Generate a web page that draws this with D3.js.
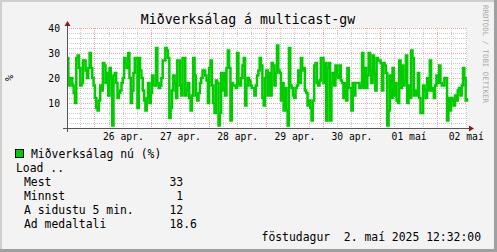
<!DOCTYPE html>
<html>
<head>
<meta charset="utf-8">
<script src="https://cdn.jsdelivr.net/npm/d3@7"></script>
<style>
body { margin: 0; background: #fff; }
text { font-family: "DejaVu Sans Mono", monospace; white-space: pre; }
</style>
</head>
<body>
<script>
// Miðverksálag (%) - gildi lesin af myndinni, jafnt dreifð yfir vikuna
var values = [
	28,17,20,20,17,14,10,28,29,24,17,18,27,27,23,20,24,30,24,20,17,12,8,7,11,17,15,26,25,18,
	22,13,24,20,1,21,22,18,12,14,15,18,20,28,26,24,30,20,10,15,22,28,28,8,28,23,20,15,11,7,
	12,18,10,14,21,17,17,32,18,16,17,20,27,27,32,31,28,
	4,8,15,21,18,12,27,27,17,13,28,28,13,15,18,12,7,13,28,21,13,11,14,18,20,23,23,21,19,10,
	24,27,17,10,6,19,18,1,6,22,15,22,13,24,31,24,3,18,17,17,16,30,18,17,20,25,28,9,17,20,
	19,17,16,16,13,17,21,23,28,25,12,9,20,23,13,22,
	13,26,25,17,22,33,23,22,11,18,7,16,7,1,32,17,16,13,12,16,17,23,18,28,23,24,15,14,9,11,
	8,3,11,25,26,18,17,19,28,28,18,26,3,24,26,3,18,22,17,25,21,20,25,19,18,12,18,11,24,16,
	16,7,18,13,18,18,18,16,17,30,16,24,16,21,30,23,18,
	29,22,15,28,27,27,26,15,26,25,22,1,7,21,12,24,13,18,11,10,27,16,25,17,19,29,10,17,12,31,
	28,13,15,13,22,12,6,6,17,15,12,20,15,27,15,16,12,17,21,18,25,18,17,17,20,20,3,12,7,12,
	11,9,13,11,15,16,13,17,24,20,11,12
];
var startTime = new Date(Date.UTC(2025, 3, 25, 12, 32));
var endTime = new Date(Date.UTC(2025, 4, 2, 12, 32));
var yTicks = [10, 20, 30, 40];
var dayLabels = ["26 apr.", "27 apr.", "28 apr.", "29 apr.", "30 apr.", "01 maí", "02 maí"];
var legendNames = ["Mest", "Minnst", "A sidustu 5 min.", "Ad medaltali"];
var legendValues = ["33", " 1", "12", "18.6"];

var W = 497, H = 252;
var plot = {left: 67, right: 467, top: 28, bottom: 128};

var svg = d3.select("body").append("svg")
	.attr("width", W)
	.attr("height", H);

//bakgrunnur og rammi
svg.append("rect").attr("width", W).attr("height", H).attr("fill", "#f3f3f3");
svg.append("rect").attr("x", 0).attr("y", 0).attr("width", W).attr("height", 2).attr("fill", "#cfcfcf");
svg.append("rect").attr("x", 0).attr("y", 0).attr("width", 2).attr("height", H).attr("fill", "#cfcfcf");
svg.append("rect").attr("x", 0).attr("y", H - 3).attr("width", W).attr("height", 3).attr("fill", "#a0a0a0");
svg.append("rect").attr("x", W - 3).attr("y", 0).attr("width", 3).attr("height", H).attr("fill", "#a0a0a0");

svg.append("rect")
	.attr("x", plot.left).attr("y", plot.top)
	.attr("width", plot.right - plot.left).attr("height", plot.bottom - plot.top)
	.attr("fill", "#fff");

var x = d3.scaleTime()
	.domain([startTime, endTime])
	.range([plot.left, plot.right]);

var y = d3.scaleLinear()
	.domain([0, 40])
	.range([plot.bottom, plot.top]);

var step = (endTime - startTime) / (values.length - 1);
var data = values.map(function(v, i) {
	return {t: new Date(+startTime + i * step), v: v};
});

//grindur
var grid = svg.append("g").attr("shape-rendering", "crispEdges").attr("stroke-width", 1);

grid.selectAll(".hmin")
	.data(d3.range(2, 41, 2).filter(function(d) { return d % 10 !== 0; }))
	.enter().append("line")
	.attr("x1", plot.left).attr("x2", plot.right)
	.attr("y1", function(d) { return Math.round(y(d)) + 0.5; })
	.attr("y2", function(d) { return Math.round(y(d)) + 0.5; })
	.attr("stroke", "#cccccc").attr("stroke-dasharray", "1,1");

grid.selectAll(".vmin")
	.data(d3.utcHour.every(6).range(startTime, endTime).filter(function(d) { return d.getUTCHours() !== 0; }))
	.enter().append("line")
	.attr("x1", function(d) { return Math.round(x(d)) + 0.5; })
	.attr("x2", function(d) { return Math.round(x(d)) + 0.5; })
	.attr("y1", plot.top).attr("y2", plot.bottom)
	.attr("stroke", "#cccccc").attr("stroke-dasharray", "1,1");

grid.selectAll(".hmaj")
	.data(yTicks)
	.enter().append("line")
	.attr("x1", plot.left).attr("x2", plot.right)
	.attr("y1", function(d) { return Math.round(y(d)) + 0.5; })
	.attr("y2", function(d) { return Math.round(y(d)) + 0.5; })
	.attr("stroke", "#f4a0a0").attr("stroke-dasharray", "1,1");

grid.selectAll(".vmaj")
	.data(d3.utcDay.range(startTime, endTime))
	.enter().append("line")
	.attr("x1", function(d) { return Math.round(x(d)) + 0.5; })
	.attr("x2", function(d) { return Math.round(x(d)) + 0.5; })
	.attr("y1", plot.top).attr("y2", plot.bottom)
	.attr("stroke", "#f4a0a0").attr("stroke-dasharray", "1,1");

//ferillinn
var line = d3.line()
	.x(function(d) { return x(d.t); })
	.y(function(d) { return y(d.v); })
	.curve(d3.curveStepAfter);

svg.append("path")
	.datum(data)
	.attr("fill", "none")
	.attr("stroke", "#00cc00")
	.attr("stroke-width", 2.5)
	.attr("d", line);

//ásar
svg.append("line")
	.attr("x1", plot.left - 4).attr("x2", plot.right + 3)
	.attr("y1", plot.bottom + 0.5).attr("y2", plot.bottom + 0.5)
	.attr("stroke", "#555").attr("shape-rendering", "crispEdges");
svg.append("line")
	.attr("x1", plot.left + 0.5).attr("x2", plot.left + 0.5)
	.attr("y1", plot.bottom + 4).attr("y2", plot.top - 3)
	.attr("stroke", "#555").attr("shape-rendering", "crispEdges");
svg.append("path")
	.attr("d", "M" + (plot.left - 2.5) + "," + (plot.top - 2) + "L" + (plot.left + 3.5) + "," + (plot.top - 2) +
		"L" + (plot.left + 0.5) + "," + (plot.top - 7) + "Z")
	.attr("fill", "#8b1a1a");
svg.append("path")
	.attr("d", "M" + (plot.right + 2) + "," + (plot.bottom - 2.5) + "L" + (plot.right + 2) + "," + (plot.bottom + 3.5) +
		"L" + (plot.right + 7) + "," + (plot.bottom + 0.5) + "Z")
	.attr("fill", "#8b1a1a");

var yAxis = svg.append("g")
	.attr("transform", "translate(" + plot.left + ",0)")
	.call(d3.axisLeft(y).tickValues(yTicks).tickSize(0).tickPadding(7));
yAxis.select(".domain").remove();
yAxis.selectAll("text")
	.style("font-family", "DejaVu Sans Mono")
	.style("font-size", "9.7px")
	.attr("fill", "#000");

var noons = d3.utcDay.range(startTime, endTime).map(function(d) { return d3.utcHour.offset(d, 12); });
var xAxis = svg.append("g")
	.attr("transform", "translate(0," + plot.bottom + ")")
	.call(d3.axisBottom(x).tickValues(noons)
		.tickSize(0).tickPadding(5)
		.tickFormat(function(d, i) { return dayLabels[i]; }));
xAxis.select(".domain").remove();
xAxis.selectAll("text")
	.style("font-family", "DejaVu Sans Mono")
	.style("font-size", "9.7px")
	.attr("fill", "#000");

//titill og merkingar
svg.append("text")
	.attr("x", 248).attr("y", 24)
	.attr("text-anchor", "middle")
	.style("font-size", "13.2px")
	.text("Miðverksálag á multicast-gw");

svg.append("text")
	.attr("transform", "translate(13,78) rotate(-90)")
	.attr("text-anchor", "middle")
	.style("font-size", "10px")
	.text("%");

svg.append("text")
	.attr("transform", "translate(483,5) rotate(90)")
	.style("font-size", "7.4px")
	.attr("fill", "#aaa")
	.text("RRDTOOL / TOBI OETIKER");

//skýringar
svg.append("rect")
	.attr("x", 15.5).attr("y", 149.5).attr("width", 8).attr("height", 8)
	.attr("fill", "#00cc00").attr("stroke", "#000");
svg.append("text").attr("x", 31).attr("y", 157.5).style("font-size", "11.4px").text("Miðverksálag nú (%)");
svg.append("text").attr("x", 16).attr("y", 171.5).style("font-size", "11.4px").text("Load ..");

var rows = svg.selectAll(".row")
	.data(legendNames)
	.enter().append("g")
	.attr("transform", function(d, i) { return "translate(0," + (185.5 + i * 14) + ")"; });
rows.append("text").attr("x", 24).style("font-size", "11.4px").text(function(d) { return d; });
rows.append("text").attr("x", 169.5).style("font-size", "11.4px").text(function(d, i) { return legendValues[i]; });

svg.append("text")
	.attr("x", 481).attr("y", 241)
	.attr("text-anchor", "end")
	.style("font-size", "11.4px")
	.text("föstudagur  2. maí 2025 12:32:00");
</script>
</body>
</html>
